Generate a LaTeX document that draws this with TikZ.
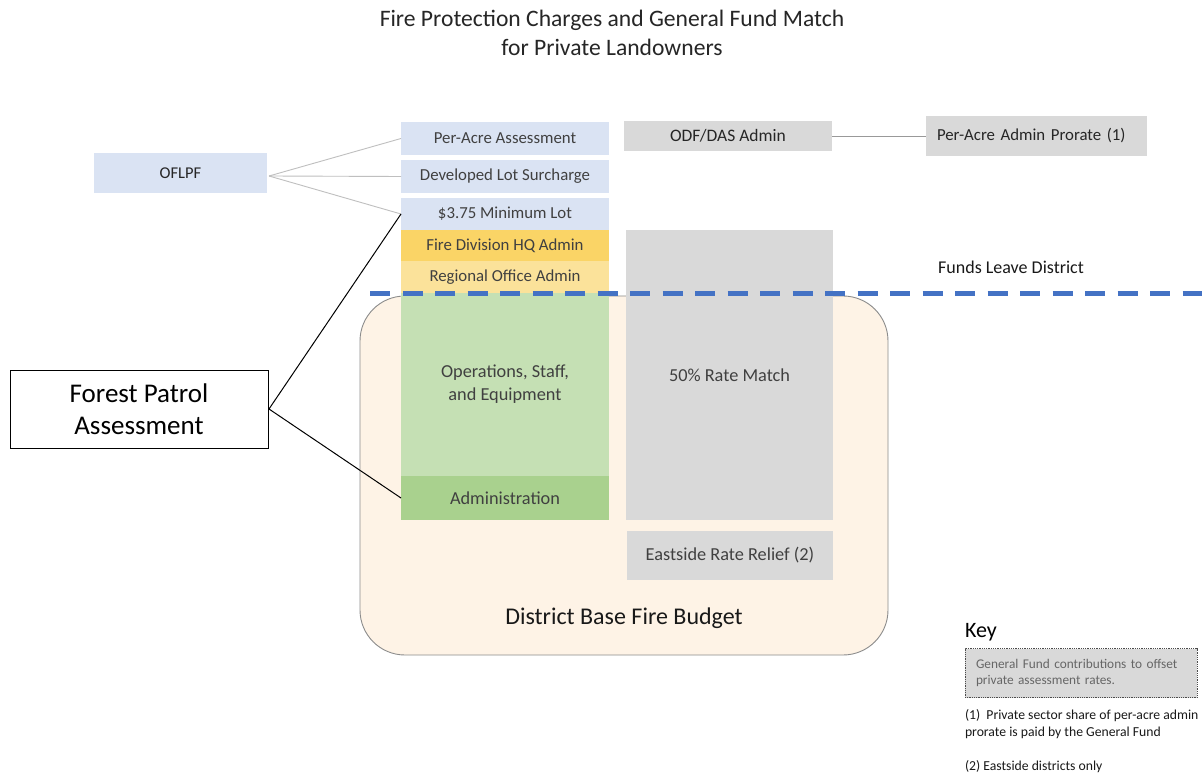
\documentclass[tikz,border=0pt]{standalone}
\usepackage{fontspec}
\setmainfont{Carlito}
\begin{document}
\begin{tikzpicture}[x=1pt,y=-1pt]
\definecolor{txt}{HTML}{404040}
\definecolor{lblue}{HTML}{DAE3F3}
\definecolor{lgray}{HTML}{D9D9D9}
\definecolor{gold}{HTML}{FAD466}
\definecolor{lgold}{HTML}{FBE29A}
\definecolor{lgreen}{HTML}{C5E0B4}
\definecolor{mgreen}{HTML}{A9D18E}
\definecolor{peach}{HTML}{FEF3E6}
\definecolor{dblue}{HTML}{4472C4}
\tikzset{
  base/.style={inner sep=0pt, outer sep=0pt, text=txt, font=\fontsize{16.8}{20}\selectfont, align=center},
  bigtext/.style={font=\fontsize{18.3}{23}\selectfont},
  bluebox/.style={base, fill=lblue, minimum width=208pt},
  graybox/.style={base, fill=lgray},
  thinline/.style={draw=black!25, line width=0.9pt},
  blackline/.style={draw=black, line width=1pt},
}
\useasboundingbox (0,0) rectangle (1202,775);
\fill[white] (0,0) rectangle (1202,775);
% title
\node[base, text=black!85, font=\fontsize{23.6}{29}\selectfont] (title) at (612,33) {Fire Protection Charges and General Fund Match\\for Private Landowners};
% district budget
\draw[fill=peach, draw=black!45, line width=0.9pt, rounded corners=45pt] (360,296) rectangle (888,655);
\node[base, text=black!90, font=\fontsize{24}{28}\selectfont] (district) at (624,618) {District Base Fire Budget};
% left column
\node[bluebox, minimum height=33pt] (pa) at (505,138.5) {Per-Acre Assessment};
\node[bluebox, minimum height=33pt] (dl) at (505,176.5) {Developed Lot Surcharge};
\node[bluebox, minimum height=32pt] (ml) at (505,214) {\$3.75 Minimum Lot};
\node[base, fill=gold, minimum width=208pt, minimum height=31pt] (fd) at (505,245.5) {Fire Division HQ Admin};
\node[base, fill=lgold, minimum width=208pt, minimum height=32pt] (ro) at (505,277) {Regional Office Admin};
\node[base, bigtext, fill=lgreen, minimum width=208pt, minimum height=183pt] (ops) at (505,384.5) {Operations, Staff,\\and Equipment};
\node[base, bigtext, fill=mgreen, minimum width=208pt, minimum height=44pt] (adm) at (505,498) {Administration};
% right column
\node[graybox, minimum width=208pt, minimum height=30pt, text=black!85, font=\fontsize{17.5}{20}\selectfont] (odf) at (728,136) {ODF/DAS Admin};
\node[graybox, text width=199pt, inner xsep=11pt, minimum height=40pt, align=left, text=black!85] (pr) at (1036.5,136) {Per-Acre Admin Prorate (1)};
\node[graybox, bigtext, minimum width=207pt, minimum height=290pt] (rm) at (729.5,375) {50\% Rate Match};
\node[graybox, bigtext, minimum width=206pt, minimum height=49pt] (er) at (730,555.5) {Eastside Rate Relief (2)};
\draw[draw=black!40, line width=0.9pt] (odf.east) -- (pr.west);
% left side
\node[bluebox, minimum width=173pt, minimum height=40pt, text=black!85, font=\fontsize{16.5}{18}\selectfont] (of) at (180.5,173) {OFLPF};
\node[base, draw=black, line width=1pt, fill=white, minimum width=258pt, minimum height=77pt, text=black, font=\fontsize{27}{32}\selectfont] (fpa) at (139,409.5) {Forest Patrol\\Assessment};
\coordinate (ofr) at (269,176);
\draw[thinline] (ofr) -- (pa.west);
\draw[thinline] (ofr) -- (dl.west);
\draw[thinline] (ofr) -- (ml.west);
\coordinate (fpr) at (269,409);
\draw[blackline] (fpr) -- (ml.west);
\draw[blackline] (fpr) -- (adm.west);
% funds leave
\node[base, text=black!90, font=\fontsize{18}{22}\selectfont] (fl) at (1011,267) {Funds Leave District};
\coordinate (dsa) at (370,294);
\coordinate (dsb) at (1202,294);
\draw[dblue, line width=5pt, dash pattern=on 20pt off 12.5pt] (dsa) -- (dsb);
% key
\node[base, anchor=west, text=black, font=\fontsize{22}{26}\selectfont] (key) at (965,632) {Key};
\node[graybox, draw=black!70, densely dotted, line width=0.8pt, text width=210pt, inner xsep=11pt, minimum height=49pt, align=left, text=black!60, font=\fontsize{13.3}{16.5}\selectfont] (kb) at (1081,673) {General Fund contributions to offset\\private assessment rates.};
\node[base, anchor=north west, align=left, text=black!90, font=\fontsize{13.7}{17}\selectfont] (k1) at (965,709) {(1)\ \ Private sector share of per-acre admin\\prorate is paid by the General Fund};
\node[base, anchor=west, text=black!90, font=\fontsize{13.7}{17}\selectfont] (k2) at (965,767) {(2) Eastside districts only};
\end{tikzpicture}
\end{document}
